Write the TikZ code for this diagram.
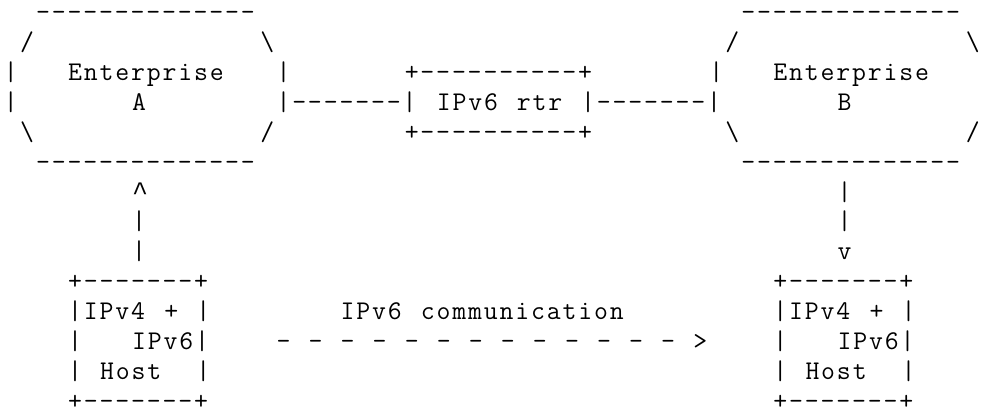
\documentclass[tikz,border=0pt]{standalone}
\usepackage{fontspec}
\setmonofont[LetterSpace=6.85]{Latin Modern Mono}
\newfontfamily\caretfont{Liberation Mono}
\tikzset{
  ch/.style={anchor=base west, inner sep=0pt, outer sep=0pt, text=black,
    text depth=0pt, font=\ttfamily\fontsize{27}{30}\selectfont}
}
% place text at a character cell: name, column, row, text
\newcommand\gl[4]{\node[ch] (#1) at ({4+16.03*(#2)},{-20.3-29.95*(#3-1)}) {#4};}
\begin{document}
\begin{tikzpicture}[x=1pt,y=1pt]
\useasboundingbox (0,0) rectangle (986,-412);
% Enterprise A
\gl{aTop}{2}{1}{--------------}
\gl{aNW}{1}{2}{/}
\gl{aNE}{16}{2}{\textbackslash}
\gl{aW1}{0}{3}{|}
\gl{aName}{4}{3}{Enterprise}
\gl{aE1}{17}{3}{|}
\gl{aW2}{0}{4}{|}
\gl{aLetter}{8}{4}{A}
\gl{aSW}{1}{5}{\textbackslash}
\gl{aSE}{16}{5}{/}
\gl{aBot}{2}{6}{--------------}
% Enterprise B
\gl{bTop}{46}{1}{--------------}
\gl{bNW}{45}{2}{/}
\gl{bNE}{60}{2}{\textbackslash}
\gl{bW1}{44}{3}{|}
\gl{bName}{48}{3}{Enterprise}
\gl{bLetter}{52}{4}{B}
\gl{bSW}{45}{5}{\textbackslash}
\gl{bSE}{60}{5}{/}
\gl{bBot}{46}{6}{--------------}
% IPv6 router and links
\gl{rTop}{25}{3}{+----------+}
\gl{linkA}{17}{4}{|-------|}
\gl{rtrA}{27}{4}{IPv6}
\gl{rtrB}{32}{4}{rtr}
\gl{linkB}{36}{4}{|-------|}
\gl{rBot}{25}{5}{+----------+}
% vertical arrows
\gl{upHead}{8}{7}{{\caretfont\fontsize{26.72}{30}\selectfont\textasciicircum}}
\gl{upA}{8}{8}{|}
\gl{upB}{8}{9}{|}
\gl{dnA}{52}{7}{|}
\gl{dnB}{52}{8}{|}
\gl{dnHead}{52}{9}{v}
% Host 1
\gl{hATop}{4}{10}{+-------+}
\gl{hAl1a}{4}{11}{|IPv4}
\gl{hAl1b}{10}{11}{+}
\gl{hAl1c}{12}{11}{|}
\gl{hAl2a}{4}{12}{|}
\gl{hAl2b}{8}{12}{IPv6|}
\gl{hAl3a}{4}{13}{|}
\gl{hAl3b}{6}{13}{Host}
\gl{hAl3c}{12}{13}{|}
\gl{hABot}{4}{14}{+-------+}
% Host 2
\gl{hBTop}{48}{10}{+-------+}
\gl{hBl1a}{48}{11}{|IPv4}
\gl{hBl1b}{54}{11}{+}
\gl{hBl1c}{56}{11}{|}
\gl{hBl2a}{48}{12}{|}
\gl{hBl2b}{52}{12}{IPv6|}
\gl{hBl3a}{48}{13}{|}
\gl{hBl3b}{50}{13}{Host}
\gl{hBl3c}{56}{13}{|}
\gl{hBBot}{48}{14}{+-------+}
% communication
\gl{commA}{21}{11}{IPv6}
\gl{commB}{26}{11}{communication}
\foreach \k in {0,...,12} {\gl{dash\k}{17+2*\k}{12}{-}}
\gl{commHead}{43}{12}{>}
\end{tikzpicture}
\end{document}
